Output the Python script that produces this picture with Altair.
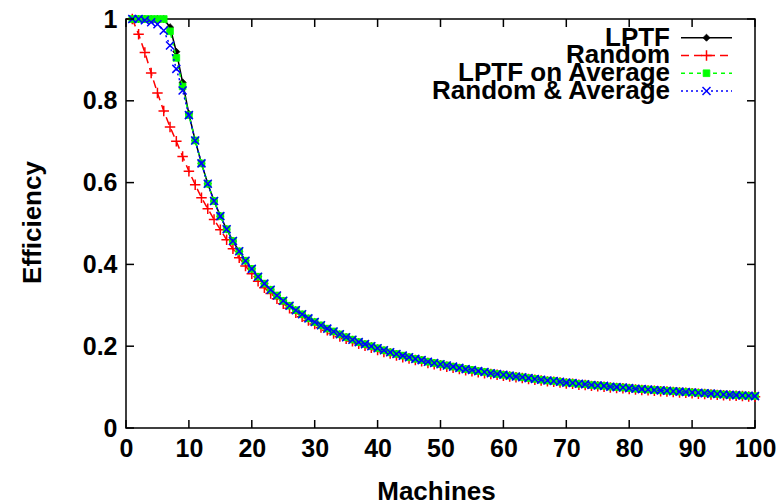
import altair as alt
import pandas as pd

machines = list(range(1, 101))

lptf = [1.0, 1.0, 1.0, 1.0, 1.0, 1.0, 0.98, 0.92, 0.845, 0.768,
        0.703, 0.647, 0.597, 0.555, 0.518, 0.486, 0.457, 0.432, 0.409, 0.389,
        0.370, 0.353, 0.338, 0.324, 0.311, 0.299, 0.288, 0.278, 0.268, 0.259,
        0.251, 0.243, 0.236, 0.229, 0.222, 0.216, 0.210, 0.205, 0.200, 0.195,
        0.190, 0.185, 0.181, 0.177, 0.173, 0.169, 0.166, 0.162, 0.159, 0.156,
        0.153, 0.150, 0.147, 0.144, 0.142, 0.139, 0.137, 0.134, 0.132, 0.130,
        0.128, 0.126, 0.124, 0.122, 0.120, 0.118, 0.116, 0.115, 0.113, 0.111,
        0.110, 0.108, 0.107, 0.105, 0.104, 0.103, 0.101, 0.100, 0.099, 0.0975,
        0.096, 0.095, 0.094, 0.093, 0.092, 0.091, 0.090, 0.089, 0.088, 0.087,
        0.086, 0.085, 0.084, 0.083, 0.082, 0.081, 0.0804, 0.0796, 0.0788, 0.078]

random_ = [1.0, 0.963, 0.918, 0.868, 0.819, 0.775, 0.736, 0.701, 0.664, 0.628,
           0.595, 0.563, 0.536, 0.510, 0.485, 0.460, 0.438, 0.416, 0.396, 0.377,
           0.359, 0.343, 0.329, 0.316, 0.304, 0.293, 0.282, 0.272, 0.263, 0.254,
           0.246, 0.239, 0.231, 0.224, 0.218, 0.212, 0.206, 0.201, 0.196, 0.191,
           0.186, 0.182, 0.177, 0.173, 0.170, 0.166, 0.163, 0.159, 0.156, 0.153,
           0.150, 0.147, 0.144, 0.141, 0.139, 0.136, 0.134, 0.132, 0.130, 0.128,
           0.126, 0.124, 0.122, 0.120, 0.118, 0.116, 0.114, 0.113, 0.111, 0.109,
           0.108, 0.106, 0.105, 0.103, 0.102, 0.101, 0.099, 0.098, 0.097, 0.0955,
           0.094, 0.093, 0.092, 0.091, 0.090, 0.089, 0.088, 0.087, 0.086, 0.085,
           0.084, 0.083, 0.082, 0.081, 0.080, 0.0795, 0.0787, 0.078, 0.0772, 0.0765]

lptf_avg = [1.0, 1.0, 1.0, 1.0, 1.0, 1.0, 0.97, 0.905, 0.835, 0.765,
            0.703, 0.647, 0.597, 0.555, 0.518, 0.486, 0.457, 0.432, 0.409, 0.389,
            0.370, 0.353, 0.338, 0.324, 0.311, 0.299, 0.288, 0.278, 0.268, 0.259,
            0.251, 0.243, 0.236, 0.229, 0.222, 0.216, 0.210, 0.205, 0.200, 0.195,
            0.190, 0.185, 0.181, 0.177, 0.173, 0.169, 0.166, 0.162, 0.159, 0.156,
            0.153, 0.150, 0.147, 0.144, 0.142, 0.139, 0.137, 0.134, 0.132, 0.130,
            0.128, 0.126, 0.124, 0.122, 0.120, 0.118, 0.116, 0.115, 0.113, 0.111,
            0.110, 0.108, 0.107, 0.105, 0.104, 0.103, 0.101, 0.100, 0.099, 0.0975,
            0.096, 0.095, 0.094, 0.093, 0.092, 0.091, 0.090, 0.089, 0.088, 0.087,
            0.086, 0.085, 0.084, 0.083, 0.082, 0.081, 0.0804, 0.0796, 0.0788, 0.078]

random_avg = [1.0, 1.0, 0.997, 0.992, 0.987, 0.972, 0.935, 0.878, 0.825, 0.765,
              0.703, 0.647, 0.597, 0.555, 0.518, 0.486, 0.457, 0.432, 0.409, 0.389,
              0.370, 0.353, 0.338, 0.324, 0.311, 0.299, 0.288, 0.278, 0.268, 0.259,
              0.251, 0.243, 0.236, 0.229, 0.222, 0.216, 0.210, 0.205, 0.200, 0.195,
              0.190, 0.185, 0.181, 0.177, 0.173, 0.169, 0.166, 0.162, 0.159, 0.156,
              0.153, 0.150, 0.147, 0.144, 0.142, 0.139, 0.137, 0.134, 0.132, 0.130,
              0.128, 0.126, 0.124, 0.122, 0.120, 0.118, 0.116, 0.115, 0.113, 0.111,
              0.110, 0.108, 0.107, 0.105, 0.104, 0.103, 0.101, 0.100, 0.099, 0.0975,
              0.096, 0.095, 0.094, 0.093, 0.092, 0.091, 0.090, 0.089, 0.088, 0.087,
              0.086, 0.085, 0.084, 0.083, 0.082, 0.081, 0.0804, 0.0796, 0.0788, 0.078]

series_names = ["LPTF", "Random", "LPTF on Average", "Random & Average"]
series_values = [lptf, random_, lptf_avg, random_avg]
colors = ["#000000", "#ff0000", "#00ff00", "#0000ff"]
dashes = [[1, 0], [8, 5], [4, 4], [2, 3]]
shapes = ["diamond", "M-1,0L1,0M0,-1L0,1", "square", "M-1,-1L1,1M-1,1L1,-1"]
sizes = [50, 110, 45, 64]
filled = [True, False, True, False]

x_ticks = [0, 10, 20, 30, 40, 50, 60, 70, 80, 90, 100]
y_ticks = [0, 0.2, 0.4, 0.6, 0.8, 1.0]

W, H = 629, 409
FONT = "Liberation Sans, Arial, sans-serif"
TICK = 8

xs = alt.Scale(domain=[0, 100], nice=False, zero=False)
ys = alt.Scale(domain=[0, 1], nice=False, zero=False)

axis_style = dict(labelFont=FONT, labelFontSize=25, labelFontWeight="bold", labelColor="black",
                  titleFont=FONT, titleFontSize=26, titleFontWeight="bold", titleColor="black",
                  domain=False, ticks=False, grid=False, labelFlush=False, labelOverlap=False)

x_axis = alt.Axis(values=x_ticks, title="Machines", labelPadding=8,
                  titleX=310, titleY=71, titleBaseline="alphabetic",
                  titleAnchor="middle", titleAlign="center", **axis_style)
y_axis = alt.Axis(values=y_ticks, title="Efficiency", labelPadding=9,
                  labelExpr="format(datum.value, '~g')",
                  titleX=-86, titleY=203, titleBaseline="alphabetic",
                  titleAngle=270, titleAlign="center", **axis_style)

layers = []

# frame
frame_df = pd.DataFrame({"a": [0]})
layers.append(alt.Chart(frame_df).mark_rect(fill=None, fillOpacity=0, stroke="black",
                                            strokeWidth=1.5).encode(
    x=alt.value(0), x2=alt.value(W), y=alt.value(0), y2=alt.value(H)))

for i, name in enumerate(series_names):
    df = pd.DataFrame({"Machines": machines, "Efficiency": series_values[i]})
    base = alt.Chart(df).encode(
        x=alt.X("Machines:Q", scale=xs, axis=x_axis),
        y=alt.Y("Efficiency:Q", scale=ys, axis=y_axis),
    )
    line_kwargs = dict(color=colors[i], strokeWidth=1.5, clip=False)
    if dashes[i] != [1, 0]:
        line_kwargs["strokeDash"] = dashes[i]
    layers.append(base.mark_line(**line_kwargs))
    if filled[i]:
        layers.append(base.mark_point(shape=shapes[i], size=sizes[i], filled=True,
                                      fill=colors[i], stroke=colors[i], strokeWidth=0.8,
                                      opacity=1))
    else:
        layers.append(base.mark_point(shape=shapes[i], size=sizes[i], filled=False,
                                      stroke=colors[i], strokeWidth=1.5, opacity=1))

xt = pd.DataFrame({"Machines": x_ticks})
yt = pd.DataFrame({"Efficiency": y_ticks})
tick_style = dict(color="black", strokeWidth=1.5)
layers.append(alt.Chart(xt).mark_rule(**tick_style).encode(
    x=alt.X("Machines:Q", scale=xs, axis=x_axis), y=alt.value(H), y2=alt.value(H - TICK)))
layers.append(alt.Chart(xt).mark_rule(**tick_style).encode(
    x=alt.X("Machines:Q", scale=xs, axis=x_axis), y=alt.value(0), y2=alt.value(TICK)))
layers.append(alt.Chart(yt).mark_rule(**tick_style).encode(
    y=alt.Y("Efficiency:Q", scale=ys, axis=y_axis), x=alt.value(0), x2=alt.value(TICK)))
layers.append(alt.Chart(yt).mark_rule(**tick_style).encode(
    y=alt.Y("Efficiency:Q", scale=ys, axis=y_axis), x=alt.value(W), x2=alt.value(W - TICK)))

main = alt.layer(*layers)

# legend (gnuplot style: label on left, sample on right)
leg_scale = alt.Scale(type="point", domain=series_names, range=[18.7, 72.0], padding=0)
leg_layers = []
for i, name in enumerate(series_names):
    ldf = pd.DataFrame({"name": [name]})
    lb = alt.Chart(ldf).encode(y=alt.Y("name:N", scale=leg_scale, axis=None))
    leg_layers.append(lb.mark_text(align="right", baseline="middle", font=FONT,
                                   fontSize=26, fontWeight="bold", color="black").encode(
        x=alt.value(544), text="name:N"))
    rk = dict(color=colors[i], strokeWidth=1.5)
    if dashes[i] != [1, 0]:
        rk["strokeDash"] = dashes[i]
    leg_layers.append(lb.mark_rule(**rk).encode(x=alt.value(555), x2=alt.value(606)))
    if filled[i]:
        leg_layers.append(lb.mark_point(shape=shapes[i], size=sizes[i], filled=True,
                                        fill=colors[i], stroke=colors[i], strokeWidth=0.8,
                                        opacity=1).encode(x=alt.value(580.5)))
    else:
        leg_layers.append(lb.mark_point(shape=shapes[i], size=sizes[i], filled=False,
                                        stroke=colors[i], strokeWidth=1.5,
                                        opacity=1).encode(x=alt.value(580.5)))

legend = alt.layer(*leg_layers)

chart = alt.layer(main, legend).resolve_scale(y="independent").properties(
    width=W, height=H,
    background="white",
    autosize=alt.AutoSizeParams(type="none"),
    padding={"left": 126, "top": 19, "right": 24, "bottom": 76},
).configure_view(
    stroke=None
)

chart.save("out.html", embed_options={"renderer": "svg", "actions": False})
